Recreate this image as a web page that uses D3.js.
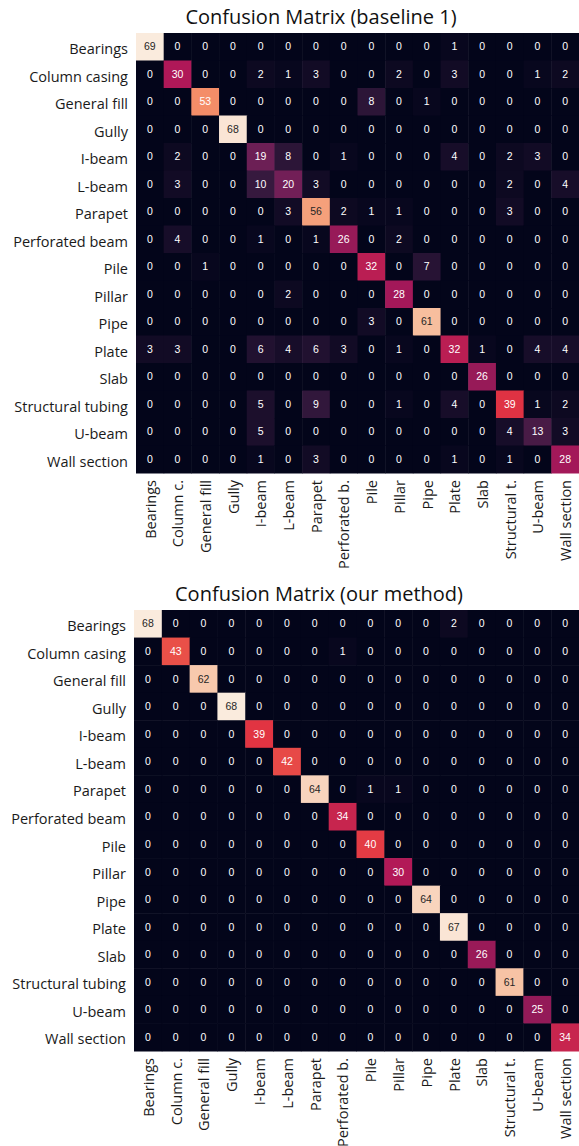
<!DOCTYPE html>
<html>
<head>
<meta charset="utf-8">
<script src="https://cdn.jsdelivr.net/npm/d3@7"></script>
<style>
  body { margin: 0; background: #fff; }
  svg { display: block; }
</style>
</head>
<body>
<div id="chart"></div>
<script>
// class names (rows use full names, columns the short ones)
const rowLabels = ["Bearings", "Column casing", "General fill", "Gully", "I-beam", "L-beam",
  "Parapet", "Perforated beam", "Pile", "Pillar", "Pipe", "Plate", "Slab",
  "Structural tubing", "U-beam", "Wall section"];
const colLabels = ["Bearings", "Column c.", "General fill", "Gully", "I-beam", "L-beam",
  "Parapet", "Perforated b.", "Pile", "Pillar", "Pipe", "Plate", "Slab",
  "Structural t.", "U-beam", "Wall section"];

const baseline = [
  [69, 0, 0, 0, 0, 0, 0, 0, 0, 0, 0, 1, 0, 0, 0, 0],
  [0, 30, 0, 0, 2, 1, 3, 0, 0, 2, 0, 3, 0, 0, 1, 2],
  [0, 0, 53, 0, 0, 0, 0, 0, 8, 0, 1, 0, 0, 0, 0, 0],
  [0, 0, 0, 68, 0, 0, 0, 0, 0, 0, 0, 0, 0, 0, 0, 0],
  [0, 2, 0, 0, 19, 8, 0, 1, 0, 0, 0, 4, 0, 2, 3, 0],
  [0, 3, 0, 0, 10, 20, 3, 0, 0, 0, 0, 0, 0, 2, 0, 4],
  [0, 0, 0, 0, 0, 3, 56, 2, 1, 1, 0, 0, 0, 3, 0, 0],
  [0, 4, 0, 0, 1, 0, 1, 26, 0, 2, 0, 0, 0, 0, 0, 0],
  [0, 0, 1, 0, 0, 0, 0, 0, 32, 0, 7, 0, 0, 0, 0, 0],
  [0, 0, 0, 0, 0, 2, 0, 0, 0, 28, 0, 0, 0, 0, 0, 0],
  [0, 0, 0, 0, 0, 0, 0, 0, 3, 0, 61, 0, 0, 0, 0, 0],
  [3, 3, 0, 0, 6, 4, 6, 3, 0, 1, 0, 32, 1, 0, 4, 4],
  [0, 0, 0, 0, 0, 0, 0, 0, 0, 0, 0, 0, 26, 0, 0, 0],
  [0, 0, 0, 0, 5, 0, 9, 0, 0, 1, 0, 4, 0, 39, 1, 2],
  [0, 0, 0, 0, 5, 0, 0, 0, 0, 0, 0, 0, 0, 4, 13, 3],
  [0, 0, 0, 0, 1, 0, 3, 0, 0, 0, 0, 1, 0, 1, 0, 28]
];

const ours = [
  [68, 0, 0, 0, 0, 0, 0, 0, 0, 0, 0, 2, 0, 0, 0, 0],
  [0, 43, 0, 0, 0, 0, 0, 1, 0, 0, 0, 0, 0, 0, 0, 0],
  [0, 0, 62, 0, 0, 0, 0, 0, 0, 0, 0, 0, 0, 0, 0, 0],
  [0, 0, 0, 68, 0, 0, 0, 0, 0, 0, 0, 0, 0, 0, 0, 0],
  [0, 0, 0, 0, 39, 0, 0, 0, 0, 0, 0, 0, 0, 0, 0, 0],
  [0, 0, 0, 0, 0, 42, 0, 0, 0, 0, 0, 0, 0, 0, 0, 0],
  [0, 0, 0, 0, 0, 0, 64, 0, 1, 1, 0, 0, 0, 0, 0, 0],
  [0, 0, 0, 0, 0, 0, 0, 34, 0, 0, 0, 0, 0, 0, 0, 0],
  [0, 0, 0, 0, 0, 0, 0, 0, 40, 0, 0, 0, 0, 0, 0, 0],
  [0, 0, 0, 0, 0, 0, 0, 0, 0, 30, 0, 0, 0, 0, 0, 0],
  [0, 0, 0, 0, 0, 0, 0, 0, 0, 0, 64, 0, 0, 0, 0, 0],
  [0, 0, 0, 0, 0, 0, 0, 0, 0, 0, 0, 67, 0, 0, 0, 0],
  [0, 0, 0, 0, 0, 0, 0, 0, 0, 0, 0, 0, 26, 0, 0, 0],
  [0, 0, 0, 0, 0, 0, 0, 0, 0, 0, 0, 0, 0, 61, 0, 0],
  [0, 0, 0, 0, 0, 0, 0, 0, 0, 0, 0, 0, 0, 0, 25, 0],
  [0, 0, 0, 0, 0, 0, 0, 0, 0, 0, 0, 0, 0, 0, 0, 34]
];

// seaborn "rocket" colormap, sampled
const rocketStops = ["#03051a", "#35193e", "#701f57", "#ad1759", "#e13342", "#f37651", "#f6b48f", "#faebdd"];
const rocket = d3.scaleLinear()
  .domain(d3.range(rocketStops.length).map(i => i / (rocketStops.length - 1)))
  .range(rocketStops)
  .interpolate(d3.interpolateRgb);

// same rule seaborn uses to pick annotation colour
function luminance(c) {
  const rgb = d3.rgb(c);
  const lin = v => {
    v /= 255;
    return v <= 0.03928 ? v / 12.92 : Math.pow((v + 0.055) / 1.055, 2.4);
  };
  return 0.2126 * lin(rgb.r) + 0.7152 * lin(rgb.g) + 0.0722 * lin(rgb.b);
}

const W = 579, H = 1146;
const svg = d3.select("#chart").append("svg").attr("width", W).attr("height", H);

function drawMatrix(matrix, title, box) {
  const g = svg.append("g");
  const keys = d3.range(rowLabels.length);
  const x = d3.scaleBand().domain(keys).range([box.left, box.right]);
  const y = d3.scaleBand().domain(keys).range([box.top, box.bottom]);
  const vmax = d3.max(matrix.flat());
  const color = v => rocket(v / vmax);

  const cells = [];
  matrix.forEach((row, i) => row.forEach((v, j) => cells.push({ i, j, v })));

  g.selectAll("rect")
    .data(cells)
    .join("rect")
    .attr("x", d => x(d.j))
    .attr("y", d => y(d.i))
    .attr("width", x.bandwidth() + 0.5)
    .attr("height", y.bandwidth() + 0.5)
    .attr("fill", d => color(d.v));

  g.selectAll("text.annot")
    .data(cells)
    .join("text")
    .attr("class", "annot")
    .attr("x", d => x(d.j) + x.bandwidth() / 2)
    .attr("y", d => y(d.i) + y.bandwidth() / 2)
    .attr("dy", "0.35em")
    .attr("text-anchor", "middle")
    .attr("font-family", "Liberation Sans, Arial, sans-serif")
    .attr("font-size", "10.5px")
    .attr("fill", d => luminance(color(d.v)) > 0.408 ? "#262626" : "#ffffff")
    .text(d => d.v);

  // row labels
  g.selectAll("text.ylab")
    .data(keys)
    .join("text")
    .attr("class", "ylab")
    .attr("x", box.left - 8)
    .attr("y", d => y(d) + y.bandwidth() / 2)
    .attr("dy", "0.5em")
    .attr("text-anchor", "end")
    .attr("font-family", "Open Sans, sans-serif")
    .attr("font-size", "14.5px")
    .attr("fill", "#1a1a1a")
    .text(d => rowLabels[d]);

  // column labels, rotated
  g.selectAll("text.xlab")
    .data(keys)
    .join("text")
    .attr("class", "xlab")
    .attr("transform", d => `translate(${x(d) + x.bandwidth() / 2},${box.bottom + 7}) rotate(-90)`)
    .attr("dy", "0.4em")
    .attr("text-anchor", "end")
    .attr("font-family", "Open Sans, sans-serif")
    .attr("font-size", "14.5px")
    .attr("fill", "#1a1a1a")
    .text(d => colLabels[d]);

  g.append("text")
    .attr("x", box.titleX)
    .attr("y", box.top - 9)
    .attr("text-anchor", "middle")
    .attr("font-family", "Open Sans, sans-serif")
    .attr("font-size", "20px")
    .attr("fill", "#111")
    .text(title);
}

drawMatrix(baseline, "Confusion Matrix (baseline 1)", { left: 136, right: 579, top: 33, bottom: 473, titleX: 321 });
drawMatrix(ours, "Confusion Matrix (our method)", { left: 134, right: 579, top: 610, bottom: 1051, titleX: 319 });
</script>
</body>
</html>
